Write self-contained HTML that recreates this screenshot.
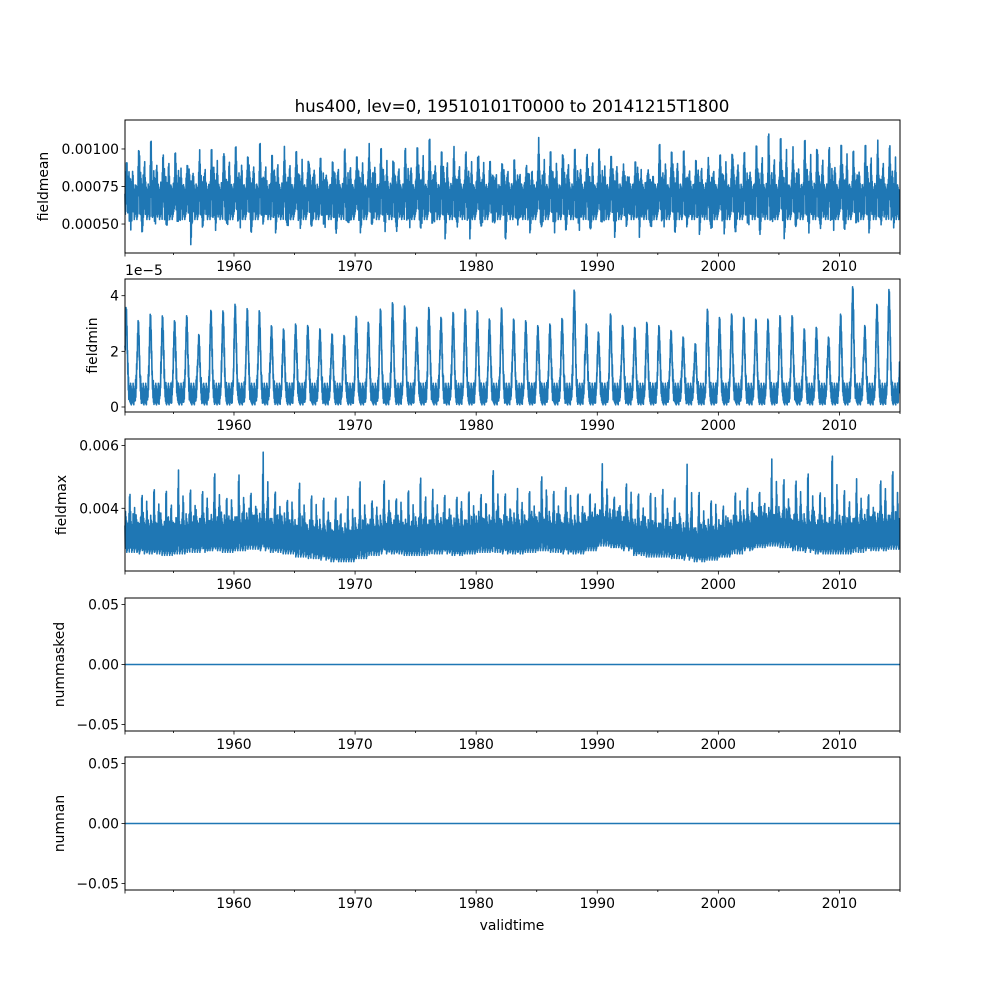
<!DOCTYPE html>
<html><head><meta charset="utf-8"><style>
body{margin:0;background:#fff}
svg text{font-family:"DejaVu Sans","Liberation Sans",sans-serif;font-size:13.9px;fill:#000}
</style></head><body>
<svg id="fig" width="1000" height="1000" viewBox="0 0 1000 1000" xmlns="http://www.w3.org/2000/svg">
<rect width="1000" height="1000" fill="#fff"/>
<text x="512" y="112" text-anchor="middle" style="font-size:16.7px">hus400, lev=0, 19510101T0000 to 20141215T1800</text>
<text x="512" y="930" text-anchor="middle">validtime</text>
<g id="plots"></g>
</svg>
<script>
// ---- data (annual summaries, 1951..2014) ----
const years = Array.from({length:64},(_,i)=>1951+i);
const meanPeakZ = [130,62,62,92,105,135,100,85,78,78,95,75,100,90,88,105,120,120,95,100,80,80,110,88,55,60,85,90,95,85,130,125,130,140,60,90,80,90,90,92,100,145,130,160,70,75,100,120,125,100,75,100,55,45,30,90,50,60,85,45,100,60,70,72];
const meanPeak = meanPeakZ.map(z=>1.2267-z/450); // 1e-3
const meanMin = [0.45,0.40,0.46,0.47,0.44,0.36,0.43,0.45,0.46,0.44,0.42,0.45,0.44,0.40,0.46,0.45,0.41,0.42,0.40,0.44,0.45,0.44,0.41,0.43,0.45,0.44,0.40,0.43,0.39,0.44,0.45,0.37,0.42,0.44,0.40,0.43,0.42,0.39,0.44,0.43,0.41,0.44,0.40,0.43,0.45,0.42,0.40,0.43,0.36,0.42,0.39,0.44,0.41,0.45,0.40,0.42,0.43,0.44,0.40,0.44,0.45,0.44,0.46,0.47];
const minPeak = [3.62,3.14,3.38,3.32,3.14,3.32,2.63,3.52,3.50,3.74,3.58,3.50,2.96,2.84,3.02,2.96,2.84,2.66,2.60,3.30,3.08,3.56,3.80,3.68,2.90,3.62,3.26,3.44,3.56,3.50,3.20,3.60,3.20,3.14,2.96,3.02,3.22,4.26,3.02,2.72,3.38,2.96,2.90,3.08,2.96,2.78,2.54,2.30,3.56,3.26,3.38,3.26,3.20,3.20,3.32,3.32,2.84,2.90,2.54,3.38,4.38,2.96,3.74,4.28]; // 1e-5
const maxPeakZ = [160,150,150,140,90,140,130,90,165,103,150,28,150,165,123,147,175,160,175,110,165,112,165,155,90,150,160,150,155,150,82,150,150,150,70,150,118,165,155,72,170,100,160,140,150,160,65,145,160,205,140,145,150,55,110,88,88,140,35,140,115,160,87,85];
const maxPeak = maxPeakZ.map(z=>6.342-z/93.9); // 1e-3
const maxBase = [3.15,3.1,3.1,3.05,3.1,3.15,3.15,3.2,3.15,3.2,3.25,3.2,3.15,3.1,3.0,2.95,2.9,2.85,2.85,2.95,3.05,3.1,3.1,3.05,3.05,3.1,3.1,3.05,3.1,3.15,3.15,3.1,3.1,3.15,3.2,3.15,3.1,3.1,3.2,3.35,3.3,3.2,3.05,3.0,3.0,2.95,2.9,2.85,2.9,3.0,3.1,3.2,3.3,3.35,3.3,3.2,3.15,3.1,3.1,3.1,3.15,3.2,3.2,3.25]; // 1e-3
const maskedVals = [0,0];
const nanVals = [0,0];

const NS="http://www.w3.org/2000/svg";
const plots=document.getElementById('plots');
const X0=125,X1=900,T0=1951,T1=2015;
const xs=t=>X0+(t-T0)/(T1-T0)*(X1-X0);
function mk(tag,attrs,parent){const e=document.createElementNS(NS,tag);for(const k in attrs)e.setAttribute(k,attrs[k]);(parent||plots).appendChild(e);return e;}

const panels=[
 {name:'fieldmean',top:120,bot:253,ymin:0.307,ymax:1.193,ticks:[0.5,0.75,1.0],labels:['0.00050','0.00075','0.00100'],lx:48},
 {name:'fieldmin',top:279,bot:412,ymin:-0.18,ymax:4.6,ticks:[0,2,4],labels:['0','2','4'],lx:97,offset:'1e\u22125'},
 {name:'fieldmax',top:439,bot:571,ymin:2.0,ymax:6.21,ticks:[4,6],labels:['0.004','0.006'],lx:66},
 {name:'nummasked',top:598,bot:731,ymin:-0.0554,ymax:0.0554,ticks:[-0.05,0,0.05],labels:['\u22120.05','0.00','0.05'],lx:64},
 {name:'numnan',top:757,bot:890,ymin:-0.0554,ymax:0.0554,ticks:[-0.05,0,0.05],labels:['\u22120.05','0.00','0.05'],lx:64},
];
function bump(f,c,w){let d=f-c;if(d>0.5)d-=1;if(d<-0.5)d+=1;return Math.exp(-(d*d)/(w*w));}
const N=48;
function series(p){
  const pts=[];
  for(let i=0;i<years.length;i++){
    for(let j=0;j<N;j++){
      const f=j/N,t=years[i]+f,k=i*N+j,odd=k%2;
      const jit=((k*7)%5)/4;
      const jit2=((k*3)%7)/6;
      let v;
      if(p===0){
        const g=Math.max(bump(f,0.15,0.07),0.6*bump(f,0.62,0.06));
        const season=bump(f,0.3,0.25);
        const top=0.70+0.12*season*jit2+0.06*jit, lo=0.60-0.07*jit;
        v=odd? lo-(lo-meanMin[i])*bump(f,0.45,0.1)*jit2 + (meanPeak[i]*0.75-lo)*Math.max(0,g-0.2) : top+(meanPeak[i]-top)*g*(0.75+0.25*jit2);
      } else if(p===1){
        const g=bump(f,0.1,0.13);
        const top=0.45+0.4*jit, lo=0.08+0.15*jit;
        v=odd? lo+(minPeak[i]*0.8-lo)*g : top+(minPeak[i]-top)*g;
      } else {
        const g=Math.max(bump(f,0.4,0.05),0.55*bump(f,0.8,0.05));
        const b=maxBase[i];
        const top=b+0.3+0.45*jit*jit2, lo=b-0.3-0.25*jit;
        v=odd? lo+(maxPeak[i]*0.6-lo)*Math.max(0,g-0.4) : top+(maxPeak[i]-top)*g*(0.8+0.2*jit2);
      }
      pts.push([t,v]);
    }
  }
  return pts;
}
panels.forEach((P,pi)=>{
  const g=mk('g',{});
  
  
  const ys=v=>P.bot-(v-P.ymin)/(P.ymax-P.ymin)*(P.bot-P.top);
  let d='';
  if(pi<3){
    series(pi).forEach((q,k)=>{d+=(k?'L':'M')+xs(q[0]).toFixed(1)+' '+ys(q[1]).toFixed(1);});
  } else {
    const vals=pi===3?maskedVals:nanVals;
    d='M'+X0+' '+ys(vals[0])+'L'+X1+' '+ys(vals[1]);
  }
  const ln=mk('path',{d:d,fill:'none',stroke:'#1f77b4','stroke-width':1.6,'stroke-linejoin':'round'},g);
  
  
  const fr=mk('rect',{x:X0,y:P.top,width:X1-X0,height:P.bot-P.top,fill:'none',stroke:'#000','stroke-width':1},g);
  
  
  for(let yr=1955;yr<=2015;yr+=5){
    const major=yr%10===0;
    mk('line',{x1:xs(yr),x2:xs(yr),y1:P.bot,y2:P.bot+(major?3.5:2),stroke:'#000','stroke-width':0.8},g);
    if(major){const t=mk('text',{x:xs(yr),y:P.bot+18,'text-anchor':'middle'},g);t.textContent=yr;
      }
  }
  mk('line',{x1:X0,x2:X0,y1:P.bot,y2:P.bot+3.5,stroke:'#000','stroke-width':0.8},g);
  P.ticks.forEach((tv,k)=>{
    const y=ys(tv);
    mk('line',{x1:X0-3.5,x2:X0,y1:y,y2:y,stroke:'#000','stroke-width':0.8},g);
    const t=mk('text',{x:X0-6,y:y+5,'text-anchor':'end'},g);t.textContent=P.labels[k];
    
  });
  if(P.offset){const t=mk('text',{x:X0,y:P.top-4},g);t.textContent=P.offset;
    }
  const cy=(P.top+P.bot)/2;
  const yl=mk('text',{x:P.lx,y:cy,'text-anchor':'middle',transform:`rotate(-90 ${P.lx} ${cy})`},g);
  yl.textContent=P.name;
  
  
});
</script>
</body></html>
